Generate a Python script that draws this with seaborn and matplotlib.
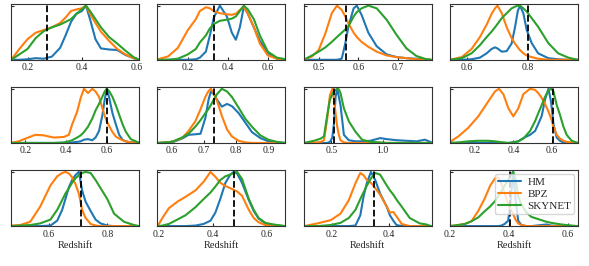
import matplotlib
matplotlib.use("Agg")
import matplotlib.pyplot as plt
import seaborn as sns

# curve values (peak-normalised densities)
z1 = [0.14, 0.17, 0.2, 0.23, 0.26, 0.29, 0.32, 0.34, 0.36, 0.38, 0.40, 0.415, 0.43, 0.45, 0.47, 0.50, 0.53, 0.56, 0.59, 0.61]
hm1 = [0, 0, 0.01, 0.03, 0.02, 0.06, 0.22, 0.45, 0.7, 0.85, 0.9, 1.0, 0.75, 0.38, 0.21, 0.19, 0.18, 0.09, 0.03, 0]
bpz1 = [0, 0.2, 0.38, 0.5, 0.55, 0.6, 0.68, 0.78, 0.9, 0.93, 0.95, 1.0, 0.85, 0.68, 0.52, 0.35, 0.2, 0.1, 0.03, 0]
sky1 = [0, 0.1, 0.2, 0.4, 0.53, 0.6, 0.65, 0.7, 0.75, 0.85, 0.93, 1.0, 0.9, 0.75, 0.6, 0.42, 0.3, 0.17, 0.05, 0]

z2 = [0.05, 0.10, 0.15, 0.20, 0.24, 0.26, 0.29, 0.31, 0.33, 0.36, 0.395, 0.42, 0.44, 0.46, 0.48, 0.50, 0.53, 0.56, 0.60, 0.645, 0.69]
hm2 = [0, 0, 0, 0, 0.01, 0.04, 0.15, 0.45, 0.78, 1.0, 0.8, 0.5, 0.37, 0.6, 0.98, 0.85, 0.6, 0.35, 0.12, 0.02, 0]
bpz2 = [0.01, 0.06, 0.22, 0.55, 0.75, 0.9, 0.97, 0.95, 0.9, 0.86, 0.84, 0.83, 0.85, 0.92, 0.98, 0.85, 0.6, 0.3, 0.08, 0.02, 0]
sky2 = [0, 0, 0.02, 0.1, 0.2, 0.32, 0.45, 0.58, 0.66, 0.72, 0.74, 0.76, 0.8, 0.9, 1.0, 0.93, 0.75, 0.45, 0.15, 0.04, 0.01]

z3 = [0.4625, 0.483, 0.5, 0.517, 0.533, 0.546, 0.558, 0.567, 0.575, 0.588, 0.596, 0.608, 0.625, 0.646, 0.671, 0.696, 0.721, 0.746, 0.771, 0.783]
hm3 = [0, 0, 0, 0, 0, 0, 0.02, 0.3, 0.62, 0.95, 1.0, 0.83, 0.5, 0.25, 0.1, 0.05, 0.03, 0.02, 0.01, 0]
bpz3 = [0, 0.06, 0.18, 0.49, 0.86, 1.0, 0.92, 0.8, 0.67, 0.5, 0.42, 0.33, 0.24, 0.15, 0.08, 0.05, 0.03, 0.01, 0, 0]
sky3 = [0, 0.08, 0.15, 0.23, 0.33, 0.42, 0.5, 0.56, 0.62, 0.8, 0.88, 0.95, 1.0, 0.95, 0.74, 0.46, 0.21, 0.07, 0.01, 0]

z4 = [0.546, 0.584, 0.616, 0.643, 0.665, 0.681, 0.692, 0.7, 0.714, 0.73, 0.746, 0.757, 0.766, 0.773, 0.784, 0.795, 0.811, 0.832, 0.865, 0.897, 0.93, 0.96]
hm4 = [0, 0, 0.01, 0.04, 0.12, 0.2, 0.23, 0.21, 0.15, 0.16, 0.3, 0.6, 0.9, 1.0, 0.86, 0.55, 0.31, 0.12, 0.03, 0.01, 0, 0]
bpz4 = [0, 0.05, 0.2, 0.42, 0.65, 0.85, 0.95, 1.0, 0.86, 0.6, 0.4, 0.3, 0.23, 0.18, 0.12, 0.08, 0.05, 0.02, 0, 0, 0, 0]
sky4 = [0, 0.03, 0.12, 0.27, 0.42, 0.52, 0.6, 0.66, 0.77, 0.86, 0.95, 0.98, 1.0, 1.0, 0.95, 0.89, 0.77, 0.61, 0.31, 0.12, 0.04, 0]

z5 = [0.131, 0.167, 0.208, 0.249, 0.291, 0.34, 0.389, 0.414, 0.43, 0.455, 0.472, 0.488, 0.508, 0.529, 0.545, 0.562, 0.578, 0.59, 0.6, 0.611, 0.628, 0.644, 0.661, 0.677, 0.693, 0.718, 0.76]
hm5 = [0, 0, 0, 0, 0, 0, 0, 0, 0.01, 0.02, 0.03, 0.06, 0.07, 0.05, 0.1, 0.22, 0.5, 0.8, 1.0, 0.85, 0.55, 0.35, 0.15, 0.06, 0.03, 0.01, 0]
bpz5 = [0, 0.03, 0.09, 0.15, 0.14, 0.1, 0.11, 0.15, 0.34, 0.58, 0.83, 1.0, 0.92, 1.0, 0.95, 0.85, 0.65, 0.5, 0.4, 0.32, 0.2, 0.12, 0.08, 0.05, 0.03, 0.01, 0]
sky5 = [0, 0, 0, 0, 0, 0, 0.01, 0.03, 0.05, 0.1, 0.14, 0.2, 0.3, 0.45, 0.6, 0.72, 0.85, 0.95, 1.0, 0.96, 0.85, 0.7, 0.52, 0.35, 0.21, 0.07, 0]

z6 = [0.558, 0.602, 0.633, 0.653, 0.674, 0.69, 0.705, 0.715, 0.722, 0.731, 0.741, 0.756, 0.772, 0.787, 0.808, 0.828, 0.849, 0.875, 0.9, 0.926, 0.952]
hm6 = [0, 0.01, 0.08, 0.15, 0.16, 0.17, 0.46, 0.8, 0.95, 0.9, 0.8, 0.67, 0.72, 0.68, 0.55, 0.38, 0.2, 0.09, 0.03, 0.01, 0]
bpz6 = [0, 0.02, 0.09, 0.22, 0.4, 0.62, 0.85, 0.96, 1.0, 0.92, 0.78, 0.5, 0.25, 0.12, 0.04, 0.01, 0, 0, 0, 0, 0]
sky6 = [0, 0.02, 0.1, 0.17, 0.3, 0.42, 0.55, 0.63, 0.7, 0.8, 0.9, 1.0, 0.95, 0.85, 0.65, 0.45, 0.3, 0.14, 0.06, 0.02, 0]

z7 = [0.235, 0.332, 0.397, 0.429, 0.461, 0.487, 0.51, 0.526, 0.542, 0.558, 0.574, 0.59, 0.623, 0.671, 0.735, 0.8, 0.881, 0.977, 1.042, 1.139, 1.235, 1.332, 1.413, 1.477]
hm7 = [0, 0, 0, 0, 0, 0.02, 0.1, 0.35, 0.85, 1.0, 0.85, 0.7, 0.15, 0.05, 0.03, 0.03, 0.04, 0.09, 0.07, 0.05, 0.04, 0.03, 0.06, 0.01]
bpz7 = [0, 0, 0.02, 0.05, 0.45, 0.88, 1.0, 0.8, 0.55, 0.3, 0.15, 0.05, 0.01, 0, 0, 0, 0, 0, 0, 0, 0, 0, 0, 0]
sky7 = [0, 0.04, 0.08, 0.12, 0.52, 0.8, 0.9, 0.95, 0.98, 1.0, 0.99, 0.92, 0.64, 0.4, 0.21, 0.06, 0.02, 0.01, 0, 0, 0, 0, 0, 0]

z8 = [0.07, 0.113, 0.165, 0.217, 0.27, 0.304, 0.325, 0.348, 0.374, 0.4, 0.426, 0.452, 0.487, 0.513, 0.53, 0.548, 0.565, 0.583, 0.597, 0.609, 0.626, 0.643, 0.661, 0.678, 0.704, 0.736]
hm8 = [0, 0, 0, 0, 0, 0, 0, 0, 0, 0.01, 0.03, 0.09, 0.15, 0.22, 0.35, 0.5, 0.8, 1.0, 0.75, 0.35, 0.1, 0.04, 0.01, 0, 0, 0]
bpz8 = [0.02, 0.12, 0.28, 0.49, 0.77, 0.95, 1.0, 0.9, 0.64, 0.49, 0.64, 0.9, 1.0, 0.98, 0.92, 0.83, 0.72, 0.58, 0.45, 0.3, 0.15, 0.08, 0.04, 0.02, 0.01, 0]
sky8 = [0, 0.01, 0.03, 0.04, 0.04, 0.03, 0.02, 0.01, 0, 0.01, 0.03, 0.08, 0.22, 0.4, 0.55, 0.7, 0.85, 0.97, 1.0, 0.95, 0.7, 0.52, 0.3, 0.15, 0.04, 0]

z9 = [0.472, 0.503, 0.537, 0.571, 0.606, 0.629, 0.646, 0.657, 0.669, 0.68, 0.691, 0.703, 0.714, 0.726, 0.743, 0.76, 0.777, 0.8, 0.823, 0.857, 0.891, 0.909]
hm9 = [0, 0, 0, 0, 0.01, 0.1, 0.3, 0.5, 0.72, 0.85, 0.94, 1.0, 0.66, 0.45, 0.28, 0.12, 0.05, 0.01, 0, 0, 0, 0]
bpz9 = [0.01, 0.02, 0.08, 0.36, 0.75, 0.92, 0.98, 1.0, 0.97, 0.9, 0.78, 0.6, 0.3, 0.15, 0.04, 0.01, 0, 0, 0, 0, 0, 0]
sky9 = [0, 0.01, 0.02, 0.05, 0.12, 0.3, 0.48, 0.6, 0.7, 0.8, 0.88, 0.94, 0.98, 1.0, 0.98, 0.85, 0.7, 0.5, 0.23, 0.08, 0.02, 0]

z10 = [0.199, 0.215, 0.239, 0.27, 0.3, 0.337, 0.367, 0.392, 0.41, 0.428, 0.447, 0.465, 0.477, 0.49, 0.508, 0.533, 0.551, 0.569, 0.594, 0.624, 0.667]
hm10 = [0, 0, 0, 0, 0, 0.01, 0.04, 0.1, 0.25, 0.5, 0.8, 0.95, 1.0, 0.97, 0.8, 0.48, 0.28, 0.14, 0.05, 0.01, 0]
bpz10 = [0.01, 0.15, 0.33, 0.45, 0.54, 0.66, 0.82, 1.0, 0.91, 0.8, 0.74, 0.7, 0.67, 0.64, 0.56, 0.3, 0.15, 0.07, 0.02, 0.01, 0]
sky10 = [0, 0.01, 0.04, 0.12, 0.2, 0.35, 0.5, 0.62, 0.73, 0.85, 0.92, 0.95, 0.98, 1.0, 0.87, 0.5, 0.3, 0.15, 0.06, 0.03, 0]

z11 = [0.105, 0.151, 0.197, 0.231, 0.26, 0.283, 0.3, 0.311, 0.323, 0.337, 0.352, 0.369, 0.392, 0.403, 0.415, 0.426, 0.444, 0.472, 0.507, 0.53, 0.547]
hm11 = [0, 0, 0, 0, 0, 0.01, 0.2, 0.54, 0.8, 1.0, 0.85, 0.6, 0.36, 0.2, 0.1, 0.02, 0, 0, 0, 0, 0]
bpz11 = [0, 0.05, 0.11, 0.23, 0.48, 0.79, 0.98, 0.94, 0.85, 0.8, 0.7, 0.58, 0.36, 0.25, 0.26, 0.18, 0.04, 0, 0, 0, 0]
sky11 = [0, 0, 0.02, 0.06, 0.15, 0.3, 0.5, 0.62, 0.75, 0.88, 0.98, 0.95, 0.75, 0.66, 0.58, 0.49, 0.36, 0.15, 0.05, 0.03, 0]

z12 = [0.2, 0.228, 0.251, 0.273, 0.296, 0.319, 0.336, 0.353, 0.364, 0.375, 0.386, 0.398, 0.407, 0.415, 0.423, 0.432, 0.443, 0.46, 0.477, 0.511, 0.528, 0.545, 0.579, 0.633]
hm12 = [0, 0, 0, 0, 0, 0, 0, 0, 0, 0.01, 0.04, 0.1, 0.5, 1.0, 0.5, 0.1, 0.02, 0, 0, 0.02, 0.03, 0.01, 0, 0]
bpz12 = [0, 0.02, 0.04, 0.09, 0.28, 0.52, 0.74, 0.88, 0.9, 0.78, 0.6, 0.4, 0.3, 0.22, 0.12, 0.05, 0.02, 0, 0, 0, 0, 0, 0, 0]
sky12 = [0, 0.02, 0.04, 0.09, 0.16, 0.28, 0.36, 0.46, 0.55, 0.65, 0.75, 0.85, 0.95, 1.0, 0.85, 0.55, 0.4, 0.25, 0.17, 0.11, 0.08, 0.06, 0.03, 0]

# true redshift of each field (dashed line)
z_true = [0.27, 0.33, 0.57, 0.80, 0.60, 0.733, 0.526, 0.605, 0.711, 0.48, 0.348, 0.405]

panels = [
    (z1, hm1, bpz1, sky1), (z2, hm2, bpz2, sky2), (z3, hm3, bpz3, sky3), (z4, hm4, bpz4, sky4),
    (z5, hm5, bpz5, sky5), (z6, hm6, bpz6, sky6), (z7, hm7, bpz7, sky7), (z8, hm8, bpz8, sky8),
    (z9, hm9, bpz9, sky9), (z10, hm10, bpz10, sky10), (z11, hm11, bpz11, sky11), (z12, hm12, bpz12, sky12),
]

xlims = [(0.14, 0.61), (0.048, 0.687), (0.4625, 0.784), (0.546, 0.961),
         (0.131, 0.758), (0.557, 0.952), (0.232, 1.477), (0.07, 0.736),
         (0.472, 0.908), (0.197, 0.667), (0.103, 0.548), (0.2, 0.635)]
xticks = [[0.2, 0.4, 0.6], [0.2, 0.4, 0.6], [0.5, 0.6, 0.7], [0.6, 0.8],
          [0.2, 0.4, 0.6], [0.6, 0.7, 0.8, 0.9], [0.5, 1.0], [0.2, 0.4, 0.6],
          [0.6, 0.8], [0.2, 0.4, 0.6], [0.2, 0.4], [0.2, 0.4, 0.6]]

sns.set_style("ticks")
plt.rcParams["font.family"] = ["Liberation Serif", "DejaVu Serif"]
plt.rcParams["xtick.direction"] = "in"
plt.rcParams["ytick.direction"] = "in"

colors = {"HM": "#1f77b4", "BPZ": "#ff7f0e", "SKYNET": "#2ca02c"}

fig, axes = plt.subplots(3, 4, figsize=(5.89, 2.66), dpi=100)
fig.subplots_adjust(left=0.019, right=0.981, top=0.985, bottom=0.150, wspace=0.145, hspace=0.49)

for i, ax in enumerate(axes.flat):
    z, hm, bpz, sky = panels[i]
    for name, vals in (("HM", hm), ("BPZ", bpz), ("SKYNET", sky)):
        sns.lineplot(x=z, y=vals, ax=ax, color=colors[name], lw=1.5, label=name)
    ax.axvline(z_true[i], color="k", ls="--", lw=1.3)
    ax.set_xlim(xlims[i])
    ax.set_ylim(0, 1.03)
    ax.set_xticks(xticks[i])
    ax.set_yticks([1.0])
    ax.set_yticklabels([])
    ax.tick_params(axis="both", labelsize=7, length=2.5, width=0.8, pad=2.5)
    ax.set_ylabel("")
    ax.set_xlabel("Redshift" if i >= 8 else "", fontsize=7.5, labelpad=2)
    for s in ax.spines.values():
        s.set_linewidth(0.8)
        s.set_color("#333333")
    if ax.get_legend() is not None:
        ax.get_legend().remove()

axes[2, 3].legend(loc="upper right", fontsize=8, handlelength=2.0, borderaxespad=0.3,
                  borderpad=0.3, labelspacing=0.2, handletextpad=0.6)

fig.savefig("out.png", dpi=100)
